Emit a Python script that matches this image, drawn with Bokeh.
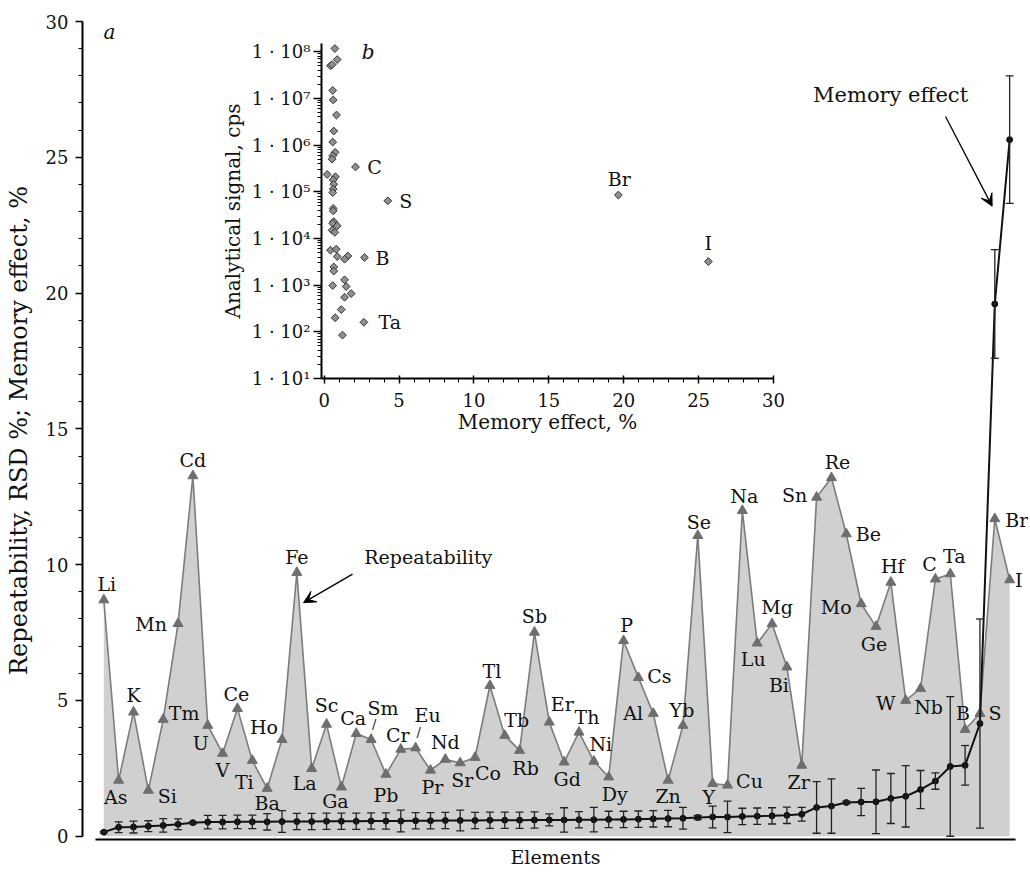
import math
from bokeh.plotting import figure
from bokeh.models import (Range1d, FixedTicker, SingleIntervalTicker, ColumnDataSource,
                          Whisker, TeeHead, Arrow, VeeHead, Label, CustomJSTickFormatter)
from bokeh.embed import file_html
from bokeh.resources import INLINE
from bokeh.core.properties import value

FONT = "DejaVu Serif"
INK = "#111111"

# ---------------- data (main panel a) ----------------
elements = ["Li", "As", "K", "Si", "Tm", "Mn", "Cd", "U", "V", "Ce", "Ti", "Ba", "Ho", "Fe",
            "La", "Sc", "Ga", "Ca", "Sm", "Pb", "Cr", "Eu", "Pr", "Nd", "Sr", "Co", "Tl", "Tb",
            "Rb", "Sb", "Er", "Gd", "Th", "Ni", "Dy", "P", "Cs", "Al", "Zn", "Yb", "Se", "Y",
            "Cu", "Na", "Lu", "Mg", "Bi", "Zr", "Sn", "Re", "Be", "Mo", "Ge", "Hf", "W", "Nb",
            "C", "Ta", "B", "S", "Br", "I"]
rsd = [8.7, 2.06, 4.57, 1.69, 4.3, 7.83, 13.27, 4.08, 3.05, 4.7, 2.79, 1.76, 3.56, 9.71,
       2.49, 4.12, 1.81, 3.78, 3.56, 2.28, 3.2, 3.25, 2.43, 2.83, 2.7, 2.9, 5.55, 3.71,
       3.16, 7.51, 4.2, 2.73, 3.83, 2.76, 2.18, 7.2, 5.84, 4.52, 2.06, 4.08, 11.07, 1.94,
       1.88, 11.99, 7.11, 7.82, 6.23, 2.61, 12.48, 13.2, 11.13, 8.56, 7.72, 9.35, 5.0, 5.44,
       9.47, 9.66, 3.93, 4.52, 11.69, 9.44]
memory = [0.15, 0.33, 0.34, 0.37, 0.40, 0.44, 0.50, 0.52, 0.52, 0.53,
          0.53, 0.53, 0.54, 0.54, 0.54, 0.55, 0.55, 0.55, 0.56, 0.56,
          0.56, 0.57, 0.57, 0.58, 0.58, 0.58, 0.59, 0.59, 0.59, 0.60,
          0.60, 0.60, 0.61, 0.61, 0.62, 0.62, 0.63, 0.64, 0.65, 0.66,
          0.69, 0.71, 0.71, 0.73, 0.74, 0.75, 0.77, 0.81, 1.06, 1.11,
          1.24, 1.26, 1.27, 1.39, 1.47, 1.72, 2.03, 2.57, 2.61, 4.15,
          19.6, 25.65]
memory_err = [0.03, 0.2, 0.22, 0.2, 0.25, 0.2, 0.04, 0.25, 0.25, 0.25,
              0.25, 0.3, 0.4, 0.3, 0.3, 0.3, 0.3, 0.3, 0.3, 0.3,
              0.4, 0.3, 0.3, 0.3, 0.38, 0.3, 0.3, 0.3, 0.3, 0.3,
              0.22, 0.45, 0.3, 0.45, 0.3, 0.3, 0.3, 0.3, 0.3, 0.4,
              0.08, 0.4, 0.58, 0.3, 0.3, 0.3, 0.3, 0.25, 0.95, 1.0,
              0.05, 0.5, 1.17, 0.92, 1.13, 0.7, 0.3, 2.57, 0.73, 3.85,
              2.0, 2.35]

# label placement (screen-pixel offsets from each triangle) -- style only
label_dx = [3, -3, 0, 19, 21, -27, 0, -7, 0, -1, -8, 0, -18, 0, -7, 0, -6, -3, 12, 0, -3,
            12, 2, 0, 2, 13, 2, 12, 6, 0, 13, 3, 8, 7, 6, 3, 21, -20, 0, -1, 1, -4, 22, 2,
            -4, 5, -8, -3, -22, 6, 22, -25, -2, 2, -20, 8, -6, 4, -2, 15, 22, 9]
label_dy = [-16, 17, -17, 6, -6, 0, -16, 18, 17, -15, 22, 15, -13, -16, 14, -19, 14, -16,
            -32, 21, -14, -33, 17, -17, 17, 16, -15, -15, 18, -16, -18, 17, -15, -17, 17,
            -16, -2, 0, 16, -15, -14, 13, -4, -15, 16, -17, 18, 17, -2, -16, 0, 3, 17, -16,
            3, 18, -15, -18, -17, 0, 1, 0]

# ---------------- data (inset b) ----------------
inset_memory = [0.71, 0.87, 0.42, 0.53, 0.57, 0.60, 0.82, 0.64, 0.57, 0.73, 0.57, 0.53,
                2.09, 0.20, 0.75, 0.60, 0.64, 0.60, 0.57, 4.25, 0.60, 0.60, 0.64, 0.57,
                0.87, 0.53, 0.71, 0.42, 0.80, 0.87, 1.58, 1.36, 2.69, 0.64, 0.64, 0.57,
                1.36, 1.47, 1.80, 1.36, 1.14, 0.73, 2.65, 1.22, 19.64, 25.65]
inset_signal = [1.17e8, 6.8e7, 5.0e7, 5.3e7, 1.48e7, 9.3e6, 4.4e6, 2.0e6, 1.16e6, 7.0e5,
                5.9e5, 5.0e5, 3.4e5, 2.35e5, 2.1e5, 1.8e5, 1.45e5, 1.14e5, 9.6e4, 6.4e4,
                4.4e4, 3.9e4, 2.3e4, 2.1e4, 1.87e4, 1.5e4, 1.35e4, 5.6e3, 5.9e3, 4.1e3,
                4.2e3, 3.6e3, 3.9e3, 2.45e3, 2.0e3, 9.8e2, 1.3e3, 9.3e2, 6.6e2, 5.5e2,
                3.0e2, 2.0e2, 1.6e2, 8.5e1, 8.5e4, 3.2e3]
inset_tag_index = [12, 19, 32, 42, 44, 45]
inset_tags = ["C", "S", "B", "Ta", "Br", "I"]
inset_tag_dx = [19, 18, 18, 26, 1, 0]
inset_tag_dy = [0, 0, 0, 0, -16, -19]

# ---------------- main figure ----------------
idx = list(range(len(elements)))
step = 14.85
x_start = -21.3 / step
frame_w = 1028 - 82

p = figure(width=1028, height=870,
           x_range=Range1d(x_start, x_start + frame_w / step),
           y_range=Range1d(-0.12, 30),
           output_backend="svg", toolbar_location=None,
           min_border_left=82, min_border_right=0, min_border_top=21, min_border_bottom=30)
p.outline_line_color = None
p.xgrid.visible = False
p.ygrid.visible = False

src = ColumnDataSource(dict(x=idx, rsd=rsd, mem=memory, name=elements,
                            dx=label_dx, dy=label_dy,
                            upper=[m + e for m, e in zip(memory, memory_err)],
                            lower=[max(m - e, 0) for m, e in zip(memory, memory_err)]))

p.varea(x="x", y1=0, y2="rsd", source=src, fill_color="#d0d0d0")
p.line(x="x", y="rsd", source=src, line_color="#7c7c7c", line_width=1.6)
p.scatter(x="x", y="rsd", source=src, marker="triangle", size=10,
          fill_color="#6e6e6e", line_color="#6e6e6e")

p.line(x="x", y="mem", source=src, line_color=INK, line_width=2)
p.scatter(x="x", y="mem", source=src, marker="circle", size=6,
          fill_color=INK, line_color=INK)
wh = Whisker(source=src, base="x", upper="upper", lower="lower", dimension="height",
             line_color="#222222", line_width=1.3, level="annotation",
             upper_head=TeeHead(size=8, line_color="#222222", line_width=1.3),
             lower_head=TeeHead(size=8, line_color="#222222", line_width=1.3))
p.add_layout(wh)

p.text(x="x", y="rsd", text="name", source=src, x_offset="dx", y_offset="dy",
       text_font=value(FONT), text_font_size=value("19px"), text_color=INK,
       text_align="center", text_baseline="middle")

# leader slashes for Sm and Eu
sl = ColumnDataSource(dict(x=[idx[elements.index("Sm")], idx[elements.index("Eu")]],
                           y=[rsd[elements.index("Sm")], rsd[elements.index("Eu")]]))
p.text(x="x", y="y", text=value("/"), source=sl, x_offset=3, y_offset=-15,
       text_font=value(FONT), text_font_size=value("13px"), text_color=INK,
       text_align="center", text_baseline="middle")

# annotations
p.add_layout(Label(x=-0.02, y=29.63, text="a", text_font=FONT, text_font_size="20px",
                   text_color=INK, text_font_style="italic", text_align="left",
                   text_baseline="alphabetic"))
p.add_layout(Label(x=21.85, y=10.28, text="Repeatability", text_font=FONT,
                   text_color=INK, text_font_size="19px", text_align="center",
                   text_baseline="middle"))
p.add_layout(Arrow(end=VeeHead(size=12, fill_color="black", line_color="black"),
                   x_start=16.75, y_start=9.65, x_end=13.45, y_end=8.6,
                   line_color="black", line_width=1.3))
p.add_layout(Label(x=52.98, y=27.31, text="Memory effect", text_font=FONT,
                   text_color=INK, text_font_size="21px", text_align="center",
                   text_baseline="middle"))
p.add_layout(Arrow(end=VeeHead(size=12, fill_color="black", line_color="black"),
                   x_start=56.68, y_start=26.5, x_end=59.82, y_end=23.2,
                   line_color="black", line_width=1.3))

ya = p.yaxis[0]
ya.ticker = SingleIntervalTicker(interval=5, num_minor_ticks=5)
ya.bounds = (0, 30)
ya.axis_line_width = 2
ya.major_tick_line_width = 1.5
ya.major_tick_out = 7
ya.major_tick_in = 0
ya.minor_tick_out = 4
ya.minor_tick_in = 0
ya.major_label_standoff = 7
ya.major_label_text_font = FONT
ya.major_label_text_font_size = "18px"
ya.major_label_text_color = INK
ya.axis_label = "Repeatability, RSD %; Memory effect, %"
ya.axis_label_text_font = FONT
ya.axis_label_text_font_size = "24px"
ya.axis_label_text_font_style = "normal"
ya.axis_label_text_color = INK
ya.axis_label_standoff = 10

xa = p.xaxis[0]
xa.ticker = FixedTicker(ticks=[])
xa.bounds = (-0.56, 61.38)
xa.axis_line_width = 2
xa.axis_label = "Elements"
xa.axis_label_text_font = FONT
xa.axis_label_text_font_size = "19px"
xa.axis_label_text_font_style = "normal"
xa.axis_label_text_color = INK
xa.axis_label_standoff = 6

# ---------------- inset figure (placed over the main panel) ----------------
pi = figure(width=593, height=438, x_range=Range1d(-0.18, 30), y_range=Range1d(10, 1.5e8),
            y_axis_type="log", output_backend="svg", toolbar_location=None,
            min_border_left=121, min_border_right=20, min_border_top=43, min_border_bottom=60,
            styles={"position": "absolute", "left": "200px", "top": "0px"})
pi.outline_line_color = None
pi.xgrid.visible = False
pi.ygrid.visible = False
pi.background_fill_color = None
pi.border_fill_color = None

isrc = ColumnDataSource(dict(x=inset_memory, y=inset_signal))
pi.scatter(x="x", y="y", source=isrc, marker="square", size=5.5, angle=math.pi / 4,
           fill_color="#8f8f8f", line_color="#333333", line_width=1)
tsrc = ColumnDataSource(dict(x=[inset_memory[i] for i in inset_tag_index],
                             y=[inset_signal[i] for i in inset_tag_index],
                             t=inset_tags, dx=inset_tag_dx, dy=inset_tag_dy))
pi.text(x="x", y="y", text="t", source=tsrc, x_offset="dx", y_offset="dy",
        text_font=value(FONT), text_font_size=value("19px"), text_color=INK,
        text_align="center", text_baseline="middle")
pi.add_layout(Label(x=2.5, y=1.0e8, text="b", text_font=FONT, text_font_size="20px",
                    text_color=INK, text_font_style="italic", text_align="left",
                    text_baseline="middle"))

decades = [10.0 ** n for n in range(1, 9)]
minors = [k * 10.0 ** n for n in range(1, 8) for k in range(2, 10)]
iy = pi.yaxis[0]
iy.ticker = FixedTicker(ticks=decades, minor_ticks=minors)
iy.formatter = CustomJSTickFormatter(code="""
const sup = {'0':'\u2070','1':'\u00b9','2':'\u00b2','3':'\u00b3','4':'\u2074',
             '5':'\u2075','6':'\u2076','7':'\u2077','8':'\u2078','9':'\u2079'};
const e = Math.round(Math.log10(tick));
return '1 \u00b7 10' + String(e).split('').map(c => sup[c]).join('');
""")
iy.axis_line_width = 2
iy.major_tick_line_width = 1.5
iy.major_tick_out = 8
iy.major_tick_in = 0
iy.minor_tick_out = 4
iy.minor_tick_in = 0
iy.major_label_standoff = 3
iy.major_label_text_font = FONT
iy.major_label_text_font_size = "18px"
iy.major_label_text_color = INK
iy.axis_label = "Analytical signal, cps"
iy.axis_label_text_font = FONT
iy.axis_label_text_font_size = "20px"
iy.axis_label_text_font_style = "normal"
iy.axis_label_text_color = INK
iy.axis_label_standoff = 4

ix = pi.xaxis[0]
ix.ticker = SingleIntervalTicker(interval=5, num_minor_ticks=5)
ix.axis_line_width = 2
ix.major_tick_line_width = 1.5
ix.major_tick_out = 5
ix.major_tick_in = 3
ix.minor_tick_out = 4
ix.minor_tick_in = 0
ix.major_label_standoff = 9
ix.major_label_text_font = FONT
ix.major_label_text_font_size = "18px"
ix.major_label_text_color = INK
ix.axis_label = "Memory effect, %"
ix.axis_label_text_font = FONT
ix.axis_label_text_font_size = "20px"
ix.axis_label_text_font_style = "normal"
ix.axis_label_text_color = INK
ix.axis_label_standoff = 0

open("out.html", "w").write(file_html([p, pi], INLINE))
